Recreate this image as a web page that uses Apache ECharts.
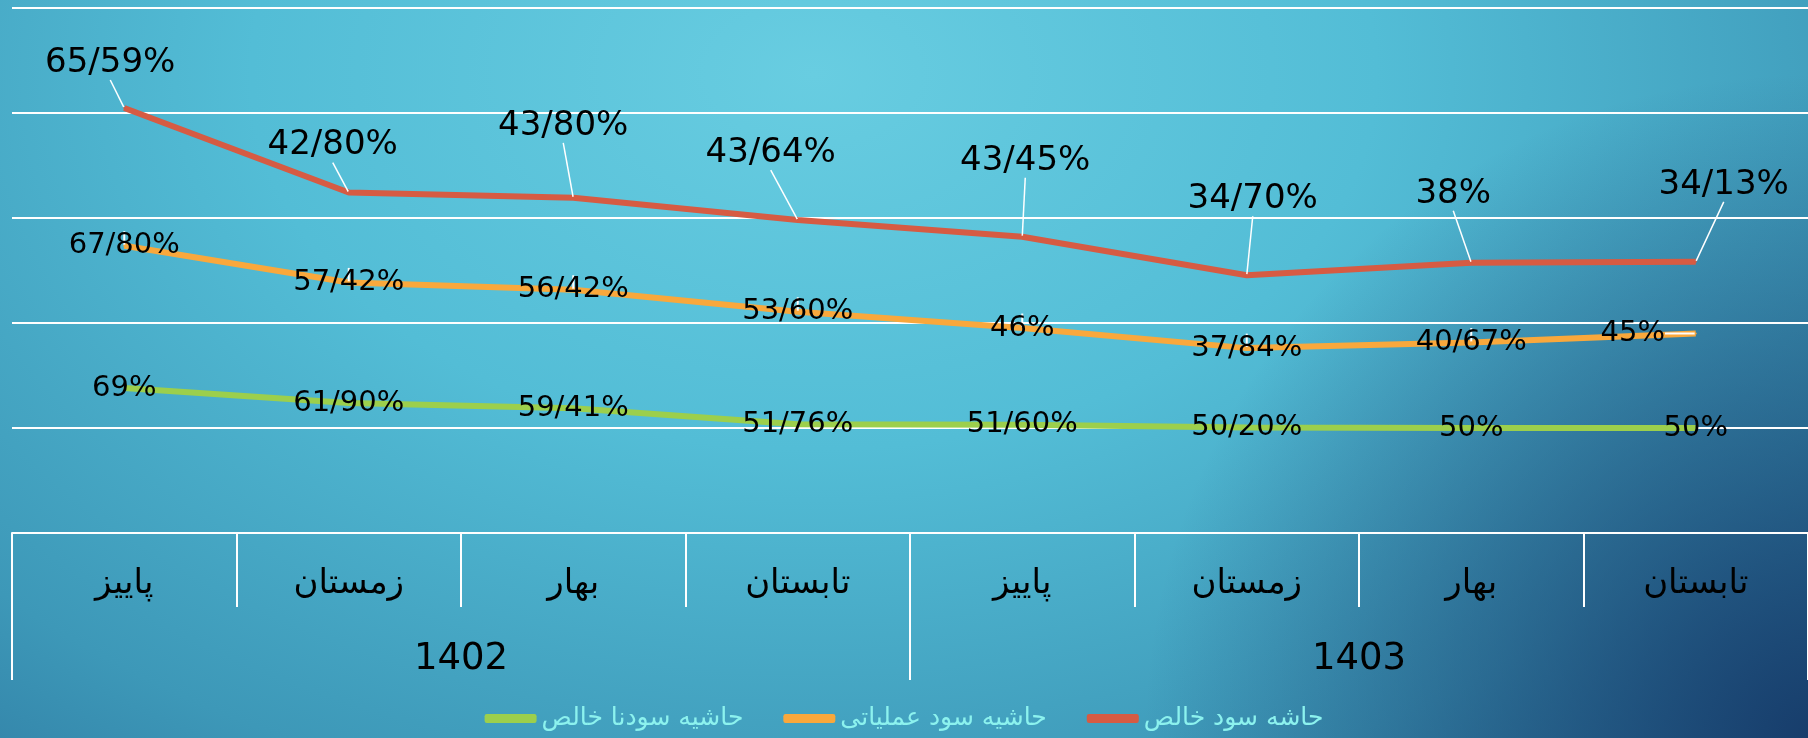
<!DOCTYPE html>
<html><head><meta charset="utf-8">
<script src="https://cdn.jsdelivr.net/npm/echarts@6/dist/echarts.min.js"></script>
<style>
html,body{margin:0;padding:0;width:1808px;height:738px;overflow:hidden;}
#chart{width:1808px;height:738px;
background:
 radial-gradient(circle at 100% 100%, rgba(22,58,105,0.95) 0%, rgba(22,58,105,0) 34%),
 radial-gradient(ellipse at 45% 10%, #68cde1 0%, #53bdd6 40%, #3d98b8 80%, #2f7ca3 100%);}
</style></head><body><div id="chart"></div>
<script>
const categories = ['پاییز', 'زمستان', 'بهار', 'تابستان', 'پاییز', 'زمستان', 'بهار', 'تابستان'];
const years = ['1402', '1403'];
const grossMargin = [69, 61.90, 59.41, 51.76, 51.60, 50.20, 50, 50];
const operatingMargin = [67.80, 57.42, 56.42, 53.60, 46, 37.84, 40.67, 45];
const netMargin = [65.59, 42.80, 43.80, 43.64, 43.45, 34.70, 38, 34.13];
const seriesNames = ['حاشیه سودنا خالص', 'حاشیه سود عملیاتی', 'حاشه سود خالص'];

// label placement (style, not data)
const netLabelShift = [[-14,-45],[-16,-47],[-10,-72],[-27,-67],[3,-76],[6,-76],[-18,-69],[28,-77]];
const opLabelShift = [[0,0],[0,0],[0,0],[0,0],[0,0],[0,0],[0,0],[-63,0]];

const fmt = v => (Number.isInteger(v) ? String(v) : v.toFixed(2).replace('.', '/')) + '%';
const font = 'DejaVu Sans';

const chart = echarts.init(document.getElementById('chart'), null, {renderer: 'canvas'});
chart.setOption({
  backgroundColor: 'transparent',
  animation: false,
  grid: {left: 12, right: 0, top: 8, bottom: 205, containLabel: false},
  legend: {
    data: seriesNames, bottom: 2, left: 'center', icon: 'roundRect',
    itemWidth: 52, itemHeight: 9, itemGap: 40,
    textStyle: {color: '#8cf2ee', fontSize: 25, fontFamily: font}
  },
  xAxis: [{
    type: 'category', data: categories, boundaryGap: true, position: 'bottom',
    axisLine: {show: true, lineStyle: {color: '#ffffff', width: 2}},
    axisTick: {show: true, interval: 0, length: 74, lineStyle: {color: '#ffffff', width: 2}},
    axisLabel: {interval: 0, margin: 34, color: '#000', fontSize: 34, fontFamily: font}
  }, {
    type: 'category', data: years, boundaryGap: true, position: 'bottom',
    axisLine: {show: false},
    axisTick: {show: true, interval: 0, length: 147, lineStyle: {color: '#ffffff', width: 2}},
    axisLabel: {interval: 0, margin: 108, color: '#000', fontSize: 37, fontFamily: font}
  }],
  yAxis: {
    type: 'value', min: 0, max: 250, interval: 50,
    axisLabel: {show: false}, axisLine: {show: false}, axisTick: {show: false},
    splitLine: {show: true, lineStyle: {color: '#ffffff', width: 2}}
  },
  series: [{
    name: seriesNames[0], type: 'line', stack: 'total', data: grossMargin,
    symbol: 'circle', symbolSize: 2, showSymbol: true,
    color: '#9ccf4c', lineStyle: {width: 6, color: '#9ccf4c'}, itemStyle: {color: '#9ccf4c'},
    label: {show: true, position: 'inside', formatter: p => fmt(p.value), color: '#000', fontSize: 29, fontFamily: font}
  }, {
    name: seriesNames[1], type: 'line', stack: 'total', data: operatingMargin,
    symbol: 'circle', symbolSize: 2, showSymbol: true,
    color: '#f9a83c', lineStyle: {width: 6, color: '#f9a83c'}, itemStyle: {color: '#f9a83c'},
    label: {show: true, position: 'inside', formatter: p => fmt(p.value), color: '#000', fontSize: 29, fontFamily: font},
    labelLayout: p => ({dx: opLabelShift[p.dataIndex][0], dy: opLabelShift[p.dataIndex][1]}),
    labelLine: {show: true, lineStyle: {color: '#ffffff', width: 2}}
  }, {
    name: seriesNames[2], type: 'line', stack: 'total', data: netMargin,
    symbol: 'circle', symbolSize: 2, showSymbol: true,
    color: '#d65b43', lineStyle: {width: 6, color: '#d65b43'}, itemStyle: {color: '#d65b43'},
    label: {show: true, position: 'inside', formatter: p => fmt(p.value), color: '#000', fontSize: 34, fontFamily: font},
    labelLayout: p => ({dx: netLabelShift[p.dataIndex][0], dy: netLabelShift[p.dataIndex][1]}),
    labelLine: {show: true, lineStyle: {color: '#ffffff', width: 1.5}}
  }]
});
</script></body></html>
